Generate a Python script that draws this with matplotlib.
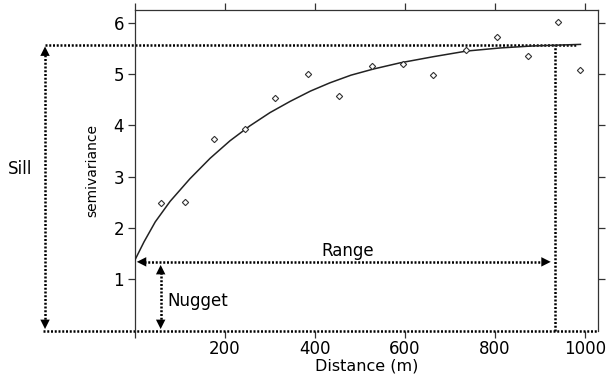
import numpy as np
import matplotlib
matplotlib.use("Agg")
import matplotlib.pyplot as plt

dist = [58, 111, 176, 244, 312, 385, 454, 526, 596, 663, 735, 805, 874, 941, 990]
semivar = [2.49, 2.51, 3.73, 3.93, 4.54, 5.00, 4.57, 5.16, 5.19, 4.98, 5.48, 5.72, 5.35, 6.02, 5.09]

# fitted model curve
curve_x = [0, 20, 45, 78, 122, 167, 211, 255, 300, 345, 390, 433, 480, 530, 589, 663, 737, 811, 885, 990]
curve_y = [1.38, 1.73, 2.12, 2.52, 2.96, 3.36, 3.70, 3.99, 4.25, 4.47, 4.67, 4.83, 4.98, 5.10, 5.22, 5.34, 5.45, 5.51, 5.55, 5.58]

nugget = 1.34
sill = 5.57
rng = 933

xticks = [0, 200, 400, 600, 800, 1000]
xticklabels = ["", "200", "400", "600", "800", "1000"]
yticks = [1, 2, 3, 4, 5, 6]

plt.rcParams['font.family'] = ['DejaVu Sans']

fig = plt.figure(figsize=(6.06, 3.78), dpi=100)
ax = fig.add_axes([0.2228, 0.1254, 0.9868 - 0.2228, 0.9735 - 0.1254])
ax.set_xlim(0, 1029)
ax.set_ylim(0, 6.25)

for s in ['left', 'top', 'right']:
    ax.spines[s].set_color('#333333')
    ax.spines[s].set_linewidth(0.9)
ax.spines['bottom'].set_visible(False)

ax.set_xticks(xticks)
ax.set_xticklabels(xticklabels)
ax.set_yticks(yticks)
ax.tick_params(direction='out', length=5, width=0.9, color='#333333',
               labelsize=12, pad=3, top=True, right=True, labelright=False, labeltop=False)
ax.tick_params(axis='x', pad=2)

ax.set_xlabel("Distance (m)", fontsize=11.5, labelpad=0)
ax.set_ylabel("semivariance", fontsize=10, labelpad=10)

# model curve and points
ax.plot(curve_x, curve_y, color='#222222', lw=1.1, zorder=3)
ax.plot(dist, semivar, linestyle='none', marker='D', markersize=3.2,
        mfc='white', mec='#333333', mew=0.8, zorder=4)

dot = dict(color='black', lw=1.8, linestyle=(0, (0.8, 0.7)), clip_on=False, zorder=2)
ax.plot([-200, 980], [sill, sill], **dot)          # sill level
ax.plot([-205, 1029], [0, 0], **dot)               # zero level
ax.plot([-200, -200], [0.15, sill - 0.15], **dot)   # sill arrow
ax.plot([57, 57], [0.15, nugget - 0.15], **dot)     # nugget arrow
ax.plot([20, rng - 25], [nugget, nugget], **dot)    # range arrow
ax.plot([rng, rng], [0, sill], **dot)               # range vertical

head = dict(arrowstyle='-|>', color='black', lw=0, mutation_scale=17, shrinkA=0, shrinkB=0)
def arrowhead(tip, frm):
    ax.annotate('', xy=tip, xytext=frm, arrowprops=head, annotation_clip=False)

arrowhead((-200, sill - 0.03), (-200, sill - 0.4))
arrowhead((-200, 0.03), (-200, 0.4))
arrowhead((57, nugget - 0.06), (57, nugget - 0.45))
arrowhead((57, 0.03), (57, 0.4))
arrowhead((4, nugget), (60, nugget))
arrowhead((924, nugget), (870, nugget))

ax.text(-255, 3.15, "Sill", fontsize=12, ha='center', va='center')
ax.text(473, 1.56, "Range", fontsize=12, ha='center', va='center')
ax.text(73, 0.58, "Nugget", fontsize=12, ha='left', va='center')

fig.savefig("out.png", dpi=100)
